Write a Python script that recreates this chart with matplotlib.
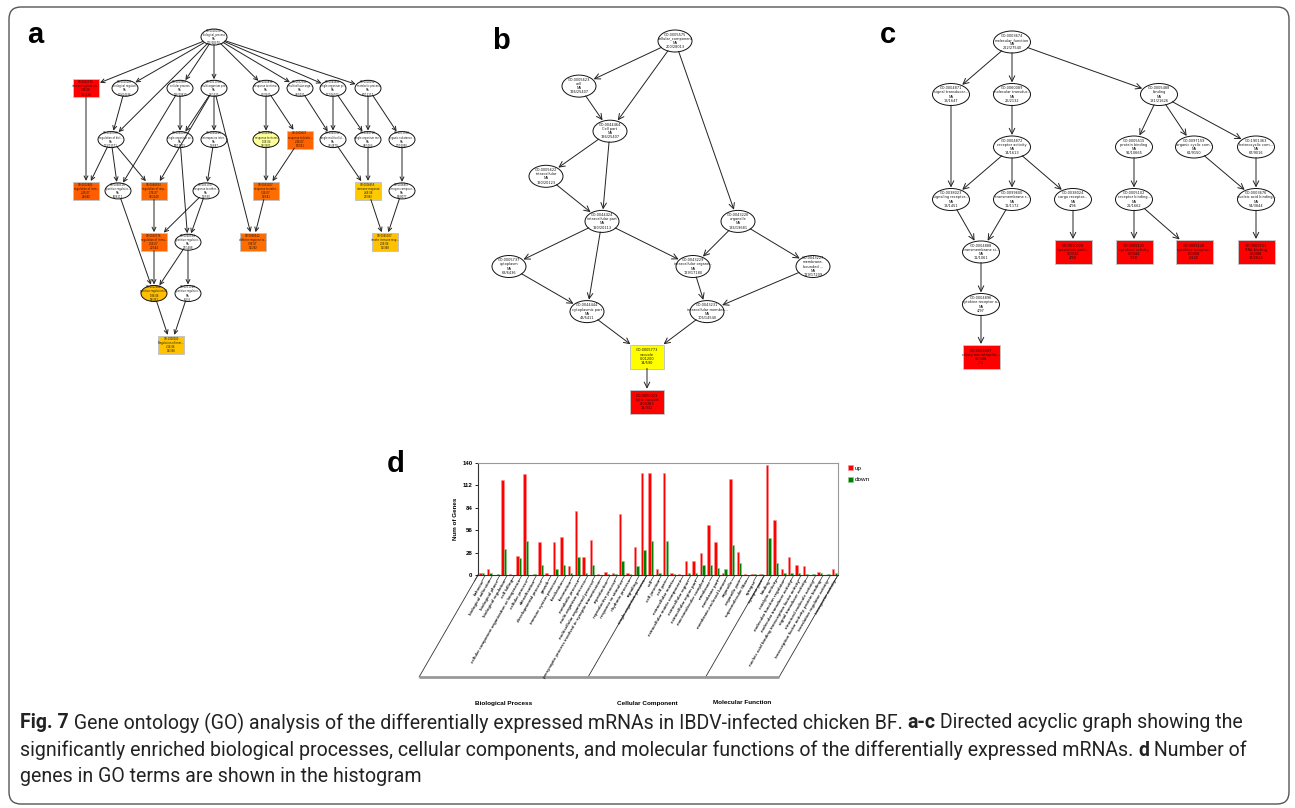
import numpy as np
import matplotlib
matplotlib.use("Agg")
import matplotlib.pyplot as plt
from matplotlib.patches import Ellipse, Rectangle, FancyArrowPatch, FancyBboxPatch
from matplotlib.colors import LinearSegmentedColormap, Normalize
from matplotlib import font_manager

# ---------------- panel d: GO histogram ----------------
bp_terms = ["behavior", "biological adhesion", "biological phase", "biological regulation",
            "cell killing", "cellular component organization or biogenesis", "cellular process",
            "detoxification", "developmental process", "growth", "immune system process",
            "localization", "locomotion", "metabolic process", "multi-organism process",
            "multicellular organismal process",
            "presynaptic process involved in synaptic transmission", "reproduction",
            "reproductive process", "response to stimulus", "rhythmic process", "signaling",
            "single-organism process"]
cc_terms = ["cell", "cell junction", "cell part", "extracellular matrix",
            "extracellular matrix component", "extracellular region", "extracellular region part",
            "macromolecular complex", "membrane", "membrane part", "membrane-enclosed lumen",
            "organelle", "organelle part", "supramolecular fiber", "synapse", "synapse part"]
mf_terms = ["binding", "catalytic activity", "molecular function regulator",
            "molecular transducer activity", "nucleic acid binding transcription factor activity",
            "signal transducer activity", "structural molecule activity",
            "transcription factor activity, protein binding", "translation regulator activity",
            "transporter activity"]
groups = ["Biological Process", "Cellular Component", "Molecular Function"]

bp_up = [3, 7, 0, 119, 1, 24, 126, 0, 41, 2, 41, 48, 11, 80, 22, 44, 1, 4, 3, 76, 2, 35, 127]
bp_down = [2, 2, 1, 33, 0, 21, 42, 1, 12, 0, 8, 12, 3, 22, 2, 12, 0, 1, 1, 18, 1, 11, 31]
cc_up = [127, 7, 127, 2, 1, 18, 18, 27, 62, 41, 3, 120, 29, 1, 1, 1]
cc_down = [42, 2, 42, 1, 0, 2, 2, 13, 13, 9, 7, 38, 15, 0, 1, 1]
mf_up = [137, 69, 8, 23, 13, 11, 0, 4, 0, 8]
mf_down = [46, 15, 2, 2, 2, 1, 1, 2, 1, 2]
y_ticks = [0, 28, 56, 84, 112, 140]

# ---------------- panel a: biological process DAG ----------------
a_labels = [
    "GO:0008150\nbiological_process\nNA\n205/28370",
    "GO:0002376\nimmune system pro...\n3.4E-08\n41/1138",
    "GO:0065007\nbiological regulati...\nNA\n119/14436",
    "GO:0009987\ncellular process\nNA\n126/19420",
    "GO:0051704\nmulti-organism pro...\nNA\n22/1325",
    "GO:0050896\nresponse to stimu...\nNA\n76/7640",
    "GO:0032501\nmulticellular orga...\nNA\n44/5031",
    "GO:0044699\nsingle-organism pr...\nNA\n127/16702",
    "GO:0008152\nmetabolic process\nNA\n80/12117",
    "GO:0050789\nregulation of biol...\nNA\n113/13571",
    "GO:0044763\nsingle-organism ce...\nNA\n98/12001",
    "GO:0044419\ninterspecies inter...\nNA\n15/687",
    "GO:0006950\nresponse to stress\n1.0E-04\n42/3301",
    "GO:0009607\nresponse to biotic...\n2.4E-07\n17/551",
    "GO:0044707\nsingle-multicellul...\nNA\n43/4870",
    "GO:0044710\nsingle-organism me...\nNA\n38/5164",
    "GO:0071704\norganic substance ...\nNA\n70/10890",
    "GO:0002682\nregulation of imm...\n2.2E-07\n24/640",
    "GO:0048518\npositive regulatio...\nNA\n60/6112",
    "GO:0048583\nregulation of resp...\n2.7E-07\n35/2240",
    "GO:0051707\nresponse to other...\nNA\n16/530",
    "GO:0043207\nresponse to exter...\n3.1E-07\n16/541",
    "GO:0006955\nimmune response\n2.6E-06\n27/993",
    "GO:0006807\nnitrogen compoun...\nNA\n54/8077",
    "GO:0050776\nregulation of immu...\n2.5E-07\n21/544",
    "GO:0048584\npositive regulatio...\nNA\n27/1688",
    "GO:0098542\ndefense response to...\n3.0E-07\n12/292",
    "GO:0045087\ninnate immune resp...\n2.0E-06\n15/368",
    "GO:0002684\npositive regulation of...\n1.8E-06\n18/461",
    "GO:0031349\npositive regulatio...\nNA\n9/235",
    "GO:1900000\nRegulation of imm...\n2.1E-06\n14/336",
]
a_x = [214, 86, 125, 180, 214, 266, 300, 333, 368,
       111, 180, 214, 266, 300, 333, 368, 402,
       86, 118, 154, 206, 266, 368, 402,
       154, 188, 253, 385,
       154, 188,
       171]
a_level = [0, 1, 1, 1, 1, 1, 1, 1, 1,
           2, 2, 2, 2, 2, 2, 2, 2,
           3, 3, 3, 3, 3, 3, 3,
           4, 4, 4, 4,
           5, 5,
           6]
a_p = [None, 3.4e-8, None, None, None, None, None, None, None,
       None, None, None, 1.0e-4, 2.4e-7, None, None, None,
       2.2e-7, None, 2.7e-7, None, 3.1e-7, 2.6e-6, None,
       2.5e-7, None, 3.0e-7, 2.0e-6,
       1.8e-6, None,
       2.1e-6]
a_top = [False, True, False, False, False, False, False, False, False,
         False, False, False, False, True, False, False, False,
         True, False, True, False, True, True, False,
         True, False, True, True,
         False, False,
         True]
a_edges = [(0, 1), (0, 2), (0, 3), (0, 4), (0, 5), (0, 6), (0, 7), (0, 8), (0, 9),
           (2, 9), (3, 10), (3, 18), (4, 10), (4, 11), (4, 19), (4, 26),
           (5, 12), (5, 13), (6, 14), (7, 14), (7, 15), (8, 15), (8, 16),
           (9, 17), (9, 18), (9, 19), (1, 17), (10, 25), (11, 20), (12, 21), (13, 21),
           (14, 22), (15, 22), (16, 23), (18, 28), (19, 24), (20, 24), (20, 25),
           (21, 26), (22, 27), (23, 27), (24, 28), (25, 28), (25, 29), (28, 30), (29, 30)]

# ---------------- panel b: cellular component DAG ----------------
b_labels = [
    "GO:0005575\ncellular_component\nNA\n200/28013",
    "GO:0005623\ncell\nNA\n196/25407",
    "GO:0044464\nCell part\nNA\n196/25407",
    "GO:0005622\nintracellular\nNA\n190/20123",
    "GO:0044424\nintracellular part\nNA\n190/20113",
    "GO:0043226\norganelle\nNA\n135/19681",
    "GO:0005737\ncytoplasm\nNA\n63/6436",
    "GO:0043229\nintracellular organe...\nNA\n129/17180",
    "GO:0043227\nmembrane-\nbounded ...\nNA\n129/17209",
    "GO:0044444\ncytoplasmic part\nNA\n43/5411",
    "GO:0043231\nintracellular membra...\nNA\n105/14540",
    "GO:0005773\nvacuole\n0.01200\n14/590",
    "GO:0000323\nlytic vacuole\n0.00383\n11/332",
]
b_x = [675, 579, 610, 546, 602, 738, 509, 693, 813, 587, 707, 647, 647]
b_level = [0, 1, 2, 3, 4, 4, 5, 5, 5, 6, 6, 7, 8]
b_p = [None, None, None, None, None, None, None, None, None, None, None, 0.012, 0.00383]
b_top = [False] * 11 + [True, True]
b_edges = [(0, 1), (0, 2), (0, 5), (1, 2), (2, 3), (2, 4), (3, 4), (4, 6), (4, 9), (4, 7),
           (5, 7), (5, 8), (6, 9), (7, 10), (8, 10), (9, 11), (10, 11), (11, 12)]

# ---------------- panel c: molecular function DAG ----------------
c_labels = [
    "GO:0003674\nmolecular_function\nNA\n222/27540",
    "GO:0004871\nsignal transducer...\nNA\n13/1647",
    "GO:0060089\nmolecular transduc...\nNA\n26/2132",
    "GO:0005488\nbinding\nNA\n181/21626",
    "GO:0004872\nreceptor activity\nNA\n14/1613",
    "GO:0005515\nprotein binding\nNA\n91/10665",
    "GO:0097159\norganic cyclic com...\nNA\n61/9150",
    "GO:1901363\nheterocyclic com...\nNA\n67/9016",
    "GO:0038023\nsignaling receptor...\nNA\n13/1451",
    "GO:0099600\ntransmembrane r...\nNA\n11/1172",
    "GO:0038024\ncargo receptor...\nNA\n4/96",
    "GO:0005102\nreceptor binding...\nNA\n21/1662",
    "GO:0003676\nnucleic acid binding...\nNA\n54/3844",
    "GO:0004888\ntransmembrane si...\nNA\n11/1061",
    "GO:0030228\nlipoprotein parti...\n0.0332\n4/90",
    "GO:0005125\ncytokine activity\n0.0344\n3/28",
    "GO:0005126\ncytokine receptor...\n0.0358\n6/226",
    "GO:0003723\nRNA binding\n0.0388\n37/2644",
    "GO:0004896\ncytokine receptor a...\nNA\n4/97",
    "GO:0004897\nciliary neurotrophic...\n0.0346\n2/3",
]
c_x = [1012, 951, 1012, 1159, 1012, 1134, 1194, 1256, 951, 1012, 1073, 1134, 1256,
       981, 1073, 1134, 1194, 1256, 981, 981]
c_level = [0, 1, 1, 1, 2, 2, 2, 2, 3, 3, 3, 3, 3, 4, 4, 4, 4, 4, 5, 6]
c_p = [None] * 14 + [0.0332, 0.0344, 0.0358, 0.0388, None, 0.0346]
c_top = [False] * 14 + [True, True, True, True, False, True]
c_edges = [(0, 1), (0, 2), (0, 3), (2, 4), (1, 8), (4, 8), (4, 9), (4, 10), (3, 5), (3, 6),
           (3, 7), (5, 11), (6, 12), (7, 12), (8, 13), (9, 13), (10, 14), (11, 15),
           (11, 16), (12, 17), (13, 18), (18, 19)]

caption = [
    [("Fig. 7", "bold"),
     (" Gene ontology (GO) analysis of the differentially expressed mRNAs in IBDV-infected chicken BF. ", "normal"),
     ("a-c", "bold"), (" Directed acyclic graph showing the", "normal")],
    [("significantly enriched biological processes, cellular components, and molecular functions of the differentially expressed mRNAs. ", "normal"),
     ("d", "bold"), (" Number of", "normal")],
    [("genes in GO terms are shown in the histogram", "normal")],
]

# ---------------- figure ----------------
W, H = 1295, 808
fig = plt.figure(figsize=(W / 100, H / 100), dpi=100)
ov = fig.add_axes([0, 0, 1, 1], zorder=0)
ov.set_xlim(0, W)
ov.set_ylim(H, 0)
ov.axis("off")

names = {f.name for f in font_manager.fontManager.ttflist}
cap_font = "Liberation Sans Narrow" if "Liberation Sans Narrow" in names else "Roboto"
arial = "Liberation Sans" if "Liberation Sans" in names else "DejaVu Sans"

ov.add_patch(FancyBboxPatch((9, 7), 1280, 797, boxstyle="round,pad=0,rounding_size=12",
                            fill=False, ec="#555555", lw=1.0))

heat = LinearSegmentedColormap.from_list(
    "go", [(0, "#FFFF99"), (0.25, "#FFFF00"), (0.5, "#FFC000"), (0.75, "#FF6600"), (1, "#FF0000")])


def draw_dag(xs, levels, labels, pvals, tops, edges, y0, dy, node_w, node_h, fs, ms, norm):
    pats = []
    for x, lv, lab, p, top in zip(xs, levels, labels, pvals, tops):
        y = y0 + lv * dy
        fill = "white" if p is None else heat(norm(-np.log10(p)))
        if top:
            pt = Rectangle((x - node_w / 2, y - node_h / 2 - 1), node_w, node_h + 2,
                           facecolor=fill, edgecolor="#c4c4c4", lw=0.7)
        else:
            pt = Ellipse((x, y), node_w, node_h, facecolor=fill, edgecolor="#111111", lw=0.7)
        ov.add_patch(pt)
        pats.append((pt, x, y))
        ov.text(x, y, lab, fontsize=fs, ha="center", va="center", linespacing=1.05,
                family="DejaVu Sans", color="#111111")
    for s, t in edges:
        pa, xa, ya = pats[s]
        pb, xb, yb = pats[t]
        ov.add_patch(FancyArrowPatch((xa, ya), (xb, yb), patchA=pa, patchB=pb,
                                     arrowstyle="->", mutation_scale=ms, lw=0.7,
                                     color="#222222", shrinkA=0, shrinkB=1))


draw_dag(a_x, a_level, a_labels, a_p, a_top, a_edges, 37, 51.3, 26, 16, 1.8, 7,
         Normalize(4, 7.45, clip=True))
draw_dag(b_x, b_level, b_labels, b_p, b_top, b_edges, 41, 45.1, 34, 22, 2.5, 10,
         Normalize(1.75, 2.42, clip=True))
draw_dag(c_x, c_level, c_labels, c_p, c_top, c_edges, 42, 52.5, 37, 22, 2.5, 10,
         Normalize(0, 1.4, clip=True))

for letter, x, y in [("a", 27, 43), ("b", 492, 49), ("c", 880, 43), ("d", 387, 472)]:
    ov.text(x, y, letter, fontsize=21, fontweight="bold", family=arial, va="baseline")

# ---------------- bar chart ----------------
terms = bp_terms + cc_terms + mf_terms
up = bp_up + cc_up + mf_up
down = bp_down + cc_down + mf_down
n = len(terms)
xpos = np.arange(n)

ax = fig.add_axes([478 / W, 1 - 575 / H, 360 / W, 112 / H], zorder=2)
ax.bar(xpos - 0.15, up, width=0.33, color="#FF0000", edgecolor="#FF8C8C", lw=0.4, label="up")
ax.bar(xpos + 0.19, down, width=0.33, color="#008000", edgecolor="#8CC88C", lw=0.4, label="down")
ax.set_xlim(-0.5, n - 0.5)
ax.set_ylim(0, 140)
ax.set_yticks(y_ticks)
ax.set_yticklabels([str(v) for v in y_ticks], fontsize=4.4, fontweight="bold", family=arial)
ax.tick_params(axis="y", length=2.5, width=0.6, pad=1.5)
ax.set_xticks(xpos)
ax.set_xticklabels(terms, rotation=60, ha="right", va="top", rotation_mode="anchor",
                   fontsize=3.2, fontweight="bold", family=arial, color="#222222")
ax.tick_params(axis="x", length=0, pad=3)
ax.set_ylabel("Num of Genes", fontsize=4.5, fontweight="bold", family=arial, labelpad=3)
for side in ["left", "bottom"]:
    ax.spines[side].set_color("#333333")
    ax.spines[side].set_linewidth(0.8)
for side in ["top", "right"]:
    ax.spines[side].set_color("#999999")
    ax.spines[side].set_linewidth(0.8)
leg = ax.legend(loc="upper left", bbox_to_anchor=(1.012, 1.03), frameon=False,
                handlelength=0.7, handleheight=0.8, handletextpad=0.4, labelspacing=0.9,
                prop={"family": arial, "size": 4.6})

# slanted decorations under the axis, computed from the axis' own transform
to_ov = ov.transData.inverted()
slope = 1 / np.tan(np.radians(60))
base_y = 677


def px(xd):
    return to_ov.transform(ax.transData.transform((xd, 0)))


for b in np.arange(n + 1) - 0.5:
    bx, by = px(b)
    ov.plot([bx, bx - 6 * slope], [by, by + 6], color="#333333", lw=0.5)

bounds = [-0.5, len(bp_terms) - 0.5, len(bp_terms) + len(cc_terms) - 0.5, n - 0.5]
feet = []
for b in bounds:
    bx, by = px(b)
    fx = bx - (base_y - by) * slope
    feet.append(fx)
    ov.plot([bx, fx], [by, base_y], color="#333333", lw=0.6)
ov.plot([feet[0], feet[-1]], [base_y, base_y], color="#999999", lw=2.0, solid_capstyle="butt")
for g, x0, x1 in zip(groups, feet[:-1], feet[1:]):
    ov.text((x0 + x1) / 2, 703, g, fontsize=4.6, fontweight="bold", family=arial,
            ha="center", va="center")

# ---------------- caption ----------------
renderer = fig.canvas.get_renderer()


def measure(s, size, weight):
    t1 = ov.text(0, 0, "|" + s + "|", fontsize=size, fontweight=weight, family=cap_font)
    t2 = ov.text(0, 0, "||", fontsize=size, fontweight=weight, family=cap_font)
    w = t1.get_window_extent(renderer).width - t2.get_window_extent(renderer).width
    t1.remove()
    t2.remove()
    return w


width10 = sum(measure(s, 10, wt) for s, wt in caption[0])
cap_size = 10 * (1245 - 20) / width10
for line, y in zip(caption, [723, 750, 777]):
    x = 20
    for s, wt in line:
        ov.text(x, y, s, fontsize=cap_size, fontweight=wt, family=cap_font,
                ha="left", va="center", color="#222222")
        x += measure(s, cap_size, wt)

fig.savefig("out.png", dpi=100)
